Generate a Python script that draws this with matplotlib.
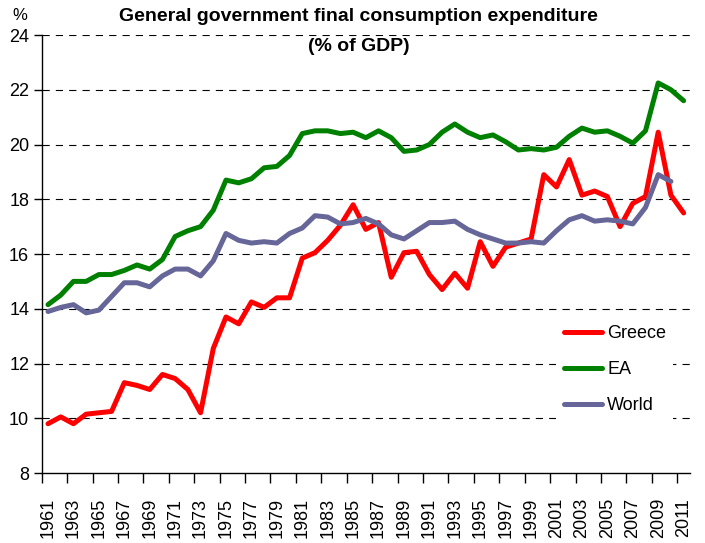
import numpy as np
import matplotlib
matplotlib.use("Agg")
import matplotlib.pyplot as plt
from matplotlib.ticker import FixedLocator

plt.rcParams['font.family'] = ['Liberation Sans', 'DejaVu Sans']

# ---- data ----
years = list(range(1961, 2012))
greece = [9.8, 10.05, 9.8, 10.15, 10.2, 10.25, 11.3, 11.2, 11.05, 11.6,
          11.45, 11.05, 10.2, 12.55, 13.7, 13.45, 14.25, 14.05, 14.4, 14.4,
          15.85, 16.05, 16.5, 17.05, 17.8, 16.9, 17.15, 15.15, 16.05, 16.1,
          15.25, 14.7, 15.3, 14.75, 16.45, 15.55, 16.25, 16.4, 16.55, 18.9,
          18.45, 19.45, 18.15, 18.3, 18.1, 17.0, 17.85, 18.1, 20.45, 18.15,
          17.5]
ea = [14.15, 14.5, 15.0, 15.0, 15.25, 15.25, 15.4, 15.6, 15.45, 15.8,
      16.64, 16.85, 17.0, 17.6, 18.7, 18.6, 18.75, 19.15, 19.2, 19.6,
      20.4, 20.5, 20.5, 20.4, 20.45, 20.25, 20.5, 20.25, 19.75, 19.8,
      20.0, 20.45, 20.75, 20.45, 20.25, 20.35, 20.1, 19.8, 19.85, 19.8,
      19.9, 20.3, 20.6, 20.45, 20.5, 20.3, 20.05, 20.5, 22.25, 22.0,
      21.6]
world = [13.9, 14.05, 14.15, 13.85, 13.95, 14.45, 14.95, 14.95, 14.8, 15.2,
         15.45, 15.45, 15.2, 15.75, 16.75, 16.5, 16.4, 16.45, 16.4, 16.75,
         16.95, 17.4, 17.35, 17.1, 17.15, 17.3, 17.1, 16.7, 16.55, 16.85,
         17.15, 17.15, 17.2, 16.9, 16.7, 16.55, 16.4, 16.4, 16.45, 16.4,
         16.85, 17.25, 17.4, 17.2, 17.25, 17.2, 17.1, 17.7, 18.9, 18.65,
         np.nan]
series_names = ["Greece", "EA", "World"]
series_colors = ["#ff0000", "#008000", "#666699"]
y_ticks = [8, 10, 12, 14, 16, 18, 20, 22, 24]

# ---- figure ----
fig = plt.figure(figsize=(7.05, 5.43), dpi=100)
ax = fig.add_axes([0.0591, 0.1289, 0.9196, 0.8066])

x = np.arange(len(years))
for vals, name, col in zip([greece, ea, world], series_names, series_colors):
    ax.plot(x, vals, color=col, lw=3.6, label=name, zorder=3,
            solid_capstyle="round", solid_joinstyle="round")

# dashed horizontal gridlines
for yv in y_ticks[1:]:
    ax.axhline(yv, color="black", lw=0.8, ls=(0, (6.5, 5.5)), zorder=1)

ax.set_xlim(-0.5, len(years) - 0.5)
ax.set_ylim(8, 24)
ax.set_yticks(y_ticks)
ax.tick_params(axis="y", labelsize=13, length=6, width=1, pad=3)

# ticks at category boundaries, labels every two years
ax.xaxis.set_major_locator(FixedLocator(np.arange(-0.5, len(years) - 0.5, 2)))
ax.xaxis.set_major_formatter(plt.NullFormatter())
ax.xaxis.set_minor_locator(FixedLocator(x[::2]))
ax.set_xticklabels([str(y) for y in years[::2]], minor=True, rotation=90)
ax.tick_params(axis="x", which="major", length=7, width=1)
ax.tick_params(axis="x", which="minor", length=0, labelsize=13, pad=18)

for s in ["top", "right"]:
    ax.spines[s].set_visible(False)
for s in ["left", "bottom"]:
    ax.spines[s].set_linewidth(1)

leg = ax.legend(loc="center", bbox_to_anchor=(0.884, 0.236), fontsize=13,
                frameon=True, facecolor="white", edgecolor="none", framealpha=1,
                handlelength=2.15, handletextpad=0.26, labelspacing=1.05,
                borderpad=0.4, fancybox=False)
leg.set_zorder(5)

fig.text(0.509, 0.969, "General government final consumption expenditure",
         ha="center", va="center", fontsize=14, fontweight="bold")
fig.text(0.509, 0.915, "(% of GDP)", ha="center", va="center",
         fontsize=14, fontweight="bold")
fig.text(0.028, 0.972, "%", ha="center", va="center", fontsize=12)

fig.savefig("out.png", dpi=100)
